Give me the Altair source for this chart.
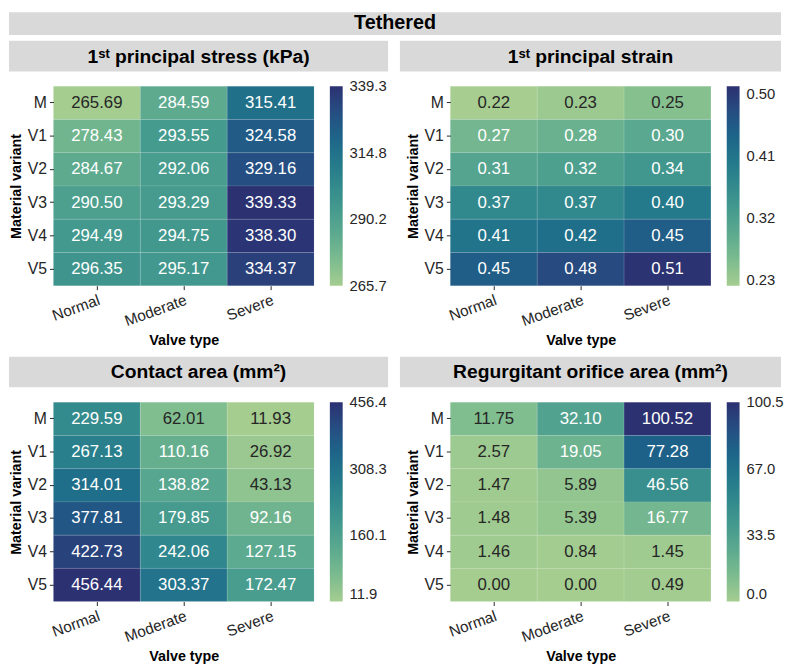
import altair as alt
import pandas as pd

variants = ["M", "V1", "V2", "V3", "V4", "V5"]
valves = ["Normal", "Moderate", "Severe"]

stress = [
    [265.69, 284.59, 315.41],
    [278.43, 293.55, 324.58],
    [284.67, 292.06, 329.16],
    [290.50, 293.29, 339.33],
    [294.49, 294.75, 338.30],
    [296.35, 295.17, 334.37],
]
strain = [
    [0.22, 0.23, 0.25],
    [0.27, 0.28, 0.30],
    [0.31, 0.32, 0.34],
    [0.37, 0.37, 0.40],
    [0.41, 0.42, 0.45],
    [0.45, 0.48, 0.51],
]
contact = [
    [229.59, 62.01, 11.93],
    [267.13, 110.16, 26.92],
    [314.01, 138.82, 43.13],
    [377.81, 179.85, 92.16],
    [422.73, 242.06, 127.15],
    [456.44, 303.37, 172.47],
]
roa = [
    [11.75, 32.10, 100.52],
    [2.57, 19.05, 77.28],
    [1.47, 5.89, 46.56],
    [1.48, 5.39, 16.77],
    [1.46, 0.84, 1.45],
    [0.00, 0.00, 0.49],
]

stress_domain = [265.69, 339.33]
strain_domain = [0.2215, 0.512]
contact_domain = [11.93, 456.44]
roa_domain = [0.0, 100.52]

stress_ticks = [265.7, 290.2, 314.8, 339.3]
strain_ticks = [0.23, 0.32, 0.41, 0.50]
contact_ticks = [11.9, 160.1, 308.3, 456.4]
roa_ticks = [0.0, 33.5, 67.0, 100.5]

titles = [
    "1\u02e2\u1d57 principal stress (kPa)",
    "1\u02e2\u1d57 principal strain",
    "Contact area (mm\u00b2)",
    "Regurgitant orifice area (mm\u00b2)",
]
header = "Tethered"

crest = ["#a5cd90", "#7dbc8f", "#5eab8f", "#469b8e", "#328a8d",
         "#23788b", "#1d6489", "#264d82", "#2c3172"]

FONT = "Liberation Sans"
W, H = 264, 202
GRAY = "#d9d9d9"
DARK = "#262626"


def make_df(vals, domain):
    recs = []
    lo, hi = domain
    for i, v in enumerate(variants):
        for j, c in enumerate(valves):
            val = vals[i][j]
            recs.append({"variant": v, "valve": c, "value": val,
                         "norm": (val - lo) / (hi - lo)})
    return pd.DataFrame(recs)


def panel(vals, domain, ticks, leg_fmt, title, left, show_header=False):
    df = make_df(vals, domain)
    base = alt.Chart(df).encode(
        x=alt.X("valve:N", sort=valves, title="Valve type",
                scale=alt.Scale(paddingInner=0, paddingOuter=0),
                axis=alt.Axis(labelAngle=-20, labelFontSize=15.5, labelColor=DARK,
                              tickSize=4, tickColor=DARK, domain=False,
                              titleFontSize=14.5, titleFontWeight="bold",
                              titleColor="black", labelPadding=3, titlePadding=5)),
        y=alt.Y("variant:N", sort=variants, title="Material variant",
                scale=alt.Scale(paddingInner=0, paddingOuter=0),
                axis=alt.Axis(labelFontSize=16, labelColor=DARK, tickSize=4,
                              tickColor=DARK, domain=False, titleFontSize=14.5,
                              titleFontWeight="bold", titleColor="black",
                              labelPadding=3, titlePadding=4)),
    )
    rect = base.mark_rect(stroke="white", strokeWidth=0.5, strokeOpacity=0.2).encode(
        color=alt.Color("value:Q",
                        scale=alt.Scale(domain=domain, range=crest, interpolate="rgb"),
                        legend=alt.Legend(title=None, values=ticks, format=leg_fmt,
                                          gradientLength=H, gradientThickness=13,
                                          gradientStrokeWidth=0,
                                          labelFontSize=15, labelColor=DARK,
                                          labelOffset=7, offset=16,
                                          labelBaseline="middle",
                                          labelOverlap=False)),
    )
    text = base.mark_text(fontSize=17, font=FONT, baseline="middle").encode(
        text=alt.Text("value:Q", format=".2f"),
        color=alt.condition(alt.datum.norm < 0.14, alt.value(DARK), alt.value("white")),
    )
    one = pd.DataFrame({"t": [title]})
    if left:
        bx0, bx1 = -45, 339
    else:
        bx0, bx1 = -51, 335
    bar = alt.Chart(one).mark_rect(fill=GRAY).encode(
        x=alt.value(bx0), x2=alt.value(bx1), y=alt.value(-46), y2=alt.value(-15))
    ttl = alt.Chart(one).mark_text(fontSize=19.5, fontWeight="bold", font=FONT,
                                   baseline="middle", align="center",
                                   color="black").encode(
        text="t:N", x=alt.value((bx0 + bx1) / 2), y=alt.value(-30))
    layers = [bar, ttl, rect, text]
    if show_header:
        h = pd.DataFrame({"t": [header]})
        hbar = alt.Chart(h).mark_rect(fill=GRAY).encode(
            x=alt.value(-45), x2=alt.value(737), y=alt.value(-75), y2=alt.value(-52))
        htxt = alt.Chart(h).mark_text(fontSize=20, fontWeight="bold", font=FONT,
                                      baseline="middle", align="center",
                                      color="black").encode(
            text="t:N", x=alt.value(346), y=alt.value(-63.5))
        layers = [hbar, htxt] + layers
    return alt.layer(*layers).properties(width=W, height=H)


p1 = panel(stress, stress_domain, stress_ticks, ".1f", titles[0], True, True)
p2 = panel(strain, strain_domain, strain_ticks, ".2f", titles[1], False)
p3 = panel(contact, contact_domain, contact_ticks, ".1f", titles[2], True)
p4 = panel(roa, roa_domain, roa_ticks, ".1f", titles[3], False)

chart = alt.concat(p1, p2, p3, p4, columns=2, bounds="flush",
                   spacing={"row": 118, "column": 138}).resolve_scale(
    color="independent").properties(padding=0).configure(
    font=FONT).configure_view(stroke=None)

chart.save("out.html", embed_options={"renderer": "svg", "actions": False})
